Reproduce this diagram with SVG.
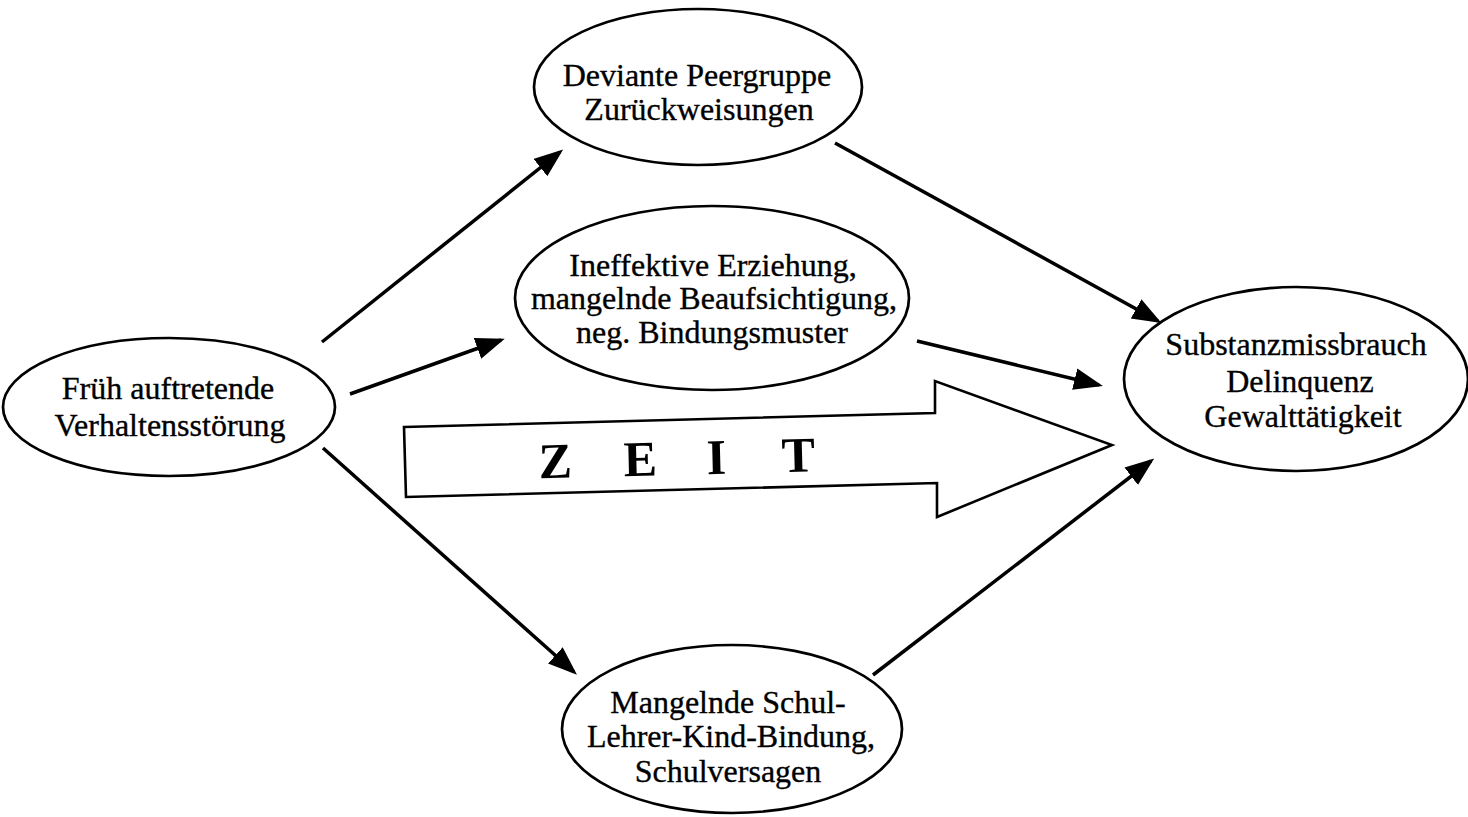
<svg xmlns="http://www.w3.org/2000/svg" width="1468" height="817" viewBox="0 0 1468 817">
  <style>
    .node ellipse { fill: #ffffff; stroke: #000000; stroke-width: 2.7; }
    .node text { font-family: "Liberation Serif", "Times New Roman", serif; font-size: 32px; fill: #000000; stroke: #000000; stroke-width: 0.35; text-anchor: middle; }
    .edge { stroke: #000000; stroke-width: 3.5; fill: none; marker-end: url(#head); }
    .time { fill: #ffffff; stroke: #000000; stroke-width: 2.6; stroke-linejoin: miter; }
    .time-label { font-family: "Liberation Serif", "Times New Roman", serif; font-size: 50px; font-weight: bold; fill: #000000; }
  </style>
  <defs>
    <marker id="head" markerUnits="userSpaceOnUse" markerWidth="30" markerHeight="24" refX="25" refY="11" orient="auto">
      <path d="M0,0 L29,11 L0,22 z" fill="#000000"/>
    </marker>
  </defs>

  <rect width="1468" height="817" fill="#ffffff"/>

  <!-- broad time arrow in the middle -->
  <g id="zeit">
    <polygon class="time" points="404,427 935,413 935,381 1112,445 937,517 937,483 406,497"/>
    <text class="time-label" transform="rotate(-1.4 673 473)" x="539 580 624 665 707 745 782" y="475">Z E I T</text>
  </g>

  <!-- connectors -->
  <g id="connectors">
    <line class="edge" x1="322" y1="342" x2="560" y2="152"/>
    <line class="edge" x1="350" y1="394" x2="501" y2="340"/>
    <line class="edge" x1="323" y1="448" x2="574" y2="672"/>
    <line class="edge" x1="835" y1="143" x2="1158" y2="321"/>
    <line class="edge" x1="917" y1="341" x2="1099" y2="385"/>
    <line class="edge" x1="873" y1="675" x2="1151" y2="461"/>
  </g>

  <g id="node-start" class="node">
    <ellipse cx="169" cy="407" rx="166" ry="69"/>
    <text x="168" y="399">Früh auftretende</text>
    <text x="170" y="436">Verhaltensstörung</text>
  </g>

  <g id="node-peer" class="node">
    <ellipse cx="698" cy="87" rx="164" ry="78"/>
    <text x="697" y="86">Deviante Peergruppe</text>
    <text x="699" y="120">Zurückweisungen</text>
  </g>

  <g id="node-parenting" class="node">
    <ellipse cx="712" cy="298" rx="197" ry="92"/>
    <text x="713" y="276">Ineffektive Erziehung,</text>
    <text x="714" y="309">mangelnde Beaufsichtigung,</text>
    <text x="712" y="343">neg. Bindungsmuster</text>
  </g>

  <g id="node-school" class="node">
    <ellipse cx="732" cy="729" rx="170" ry="84"/>
    <text x="728" y="713">Mangelnde Schul-</text>
    <text x="731" y="747">Lehrer-Kind-Bindung,</text>
    <text x="728" y="782">Schulversagen</text>
  </g>

  <g id="node-outcome" class="node">
    <ellipse cx="1296" cy="379" rx="172" ry="92"/>
    <text x="1296" y="355">Substanzmissbrauch</text>
    <text x="1300" y="392">Delinquenz</text>
    <text x="1303" y="427">Gewalttätigkeit</text>
  </g>
</svg>
